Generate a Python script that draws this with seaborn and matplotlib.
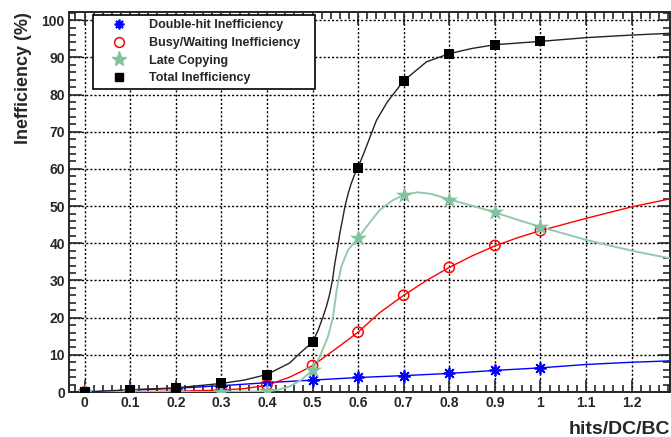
import matplotlib
matplotlib.use("Agg")
import matplotlib.pyplot as plt
import pandas as pd
import seaborn as sns
from matplotlib.lines import Line2D
from matplotlib.ticker import MultipleLocator, FormatStrFormatter

# measured points
hits = [0.0, 0.1, 0.2, 0.3, 0.4, 0.5, 0.6, 0.7, 0.8, 0.9, 1.0]
double_hit = [0.0, 0.45, 0.9, 1.7, 2.6, 3.2, 3.9, 4.4, 5.0, 5.9, 6.5]
busy = [0.0, 0.1, 0.3, 0.6, 1.9, 7.1, 16.1, 26.0, 33.5, 39.4, 43.4]
late = [0.0, 0.0, 0.1, 0.1, 0.2, 5.9, 41.4, 53.0, 51.7, 48.3, 44.4]
total = [0.0, 0.6, 1.0, 2.3, 4.7, 13.4, 60.3, 83.7, 91.0, 93.4, 94.3]

# fitted curves
double_hit_fx = [0.0, 0.1, 0.2, 0.3, 0.4, 0.5, 0.6, 0.7, 0.8, 0.9, 1.0, 1.1, 1.2, 1.29]
double_hit_fy = [0.0, 0.5, 1.0, 1.7, 2.5, 3.2, 3.9, 4.4, 5.0, 5.8, 6.5, 7.4, 8.0, 8.4]

busy_fx = [0.0, 0.1, 0.2, 0.3, 0.35, 0.4, 0.45, 0.472, 0.5, 0.55, 0.6, 0.647, 0.7,
           0.75, 0.8, 0.85, 0.9, 0.95, 1.0, 1.1, 1.2, 1.29]
busy_fy = [0.0, 0.1, 0.2, 0.5, 0.9, 1.8, 4.0, 5.3, 7.1, 11.5, 16.1, 21.3, 26.0,
           30.0, 33.5, 36.6, 39.3, 41.5, 43.4, 46.7, 49.8, 52.1]

late_fx = [0.0, 0.3, 0.4, 0.425, 0.45, 0.475, 0.5, 0.516, 0.534, 0.545, 0.553, 0.563,
           0.578, 0.6, 0.625, 0.647, 0.675, 0.7, 0.73, 0.76, 0.8, 0.85, 0.9, 0.95,
           1.0, 1.1, 1.2, 1.29]
late_fy = [0.0, 0.0, 0.2, 0.6, 1.5, 3.2, 5.9, 9.5, 14.9, 20.2, 27.4, 33.7,
           38.2, 41.4, 45.5, 48.9, 51.5, 53.0, 53.7, 53.3, 51.8, 50.1, 48.3, 46.3,
           44.4, 40.9, 38.0, 35.8]

total_fx = [0.0, 0.1, 0.2, 0.3, 0.35, 0.4, 0.45, 0.472, 0.5, 0.512, 0.523, 0.531,
            0.538, 0.544, 0.549, 0.555, 0.56, 0.566, 0.571, 0.578, 0.585, 0.592,
            0.6, 0.615, 0.64, 0.664, 0.7, 0.75, 0.8, 0.85, 0.9,
            1.0, 1.1, 1.2, 1.29]
total_fy = [0.0, 0.6, 1.1, 2.3, 3.2, 4.7, 7.8, 10.4, 13.4, 16.5, 20.2, 23.2,
            26.5, 30.3, 34.6, 38.8, 42.7, 46.5, 49.8, 53.3, 56.1, 58.4,
            60.4, 65.0, 73.0, 78.0, 83.7, 88.8, 91.0, 92.4, 93.4,
            94.3, 95.3, 96.0, 96.5]

labels = ["Double-hit Inefficiency", "Busy/Waiting Inefficiency   ",
          "Late Copying", "Total Inefficiency"]

GREEN = "#82c29e"
GREEN_LINE = "#92cbac"

sns.set_style("ticks")
plt.rcParams["font.family"] = ["Liberation Sans", "DejaVu Sans"]
plt.rcParams["font.weight"] = "bold"

fig = plt.figure(figsize=(6.71, 4.37), dpi=100)
ax = fig.add_axes([69 / 671, 45 / 437, 601 / 671, 380 / 437])

curves = [
    (double_hit_fx, double_hit_fy, "blue", 1.0),
    (busy_fx, busy_fy, "red", 1.0),
    (late_fx, late_fy, GREEN_LINE, 1.4),
    (total_fx, total_fy, "#222222", 1.0),
]
for fx, fy, c, lw in curves:
    sns.lineplot(x=fx, y=fy, color=c, linewidth=lw, ax=ax, sort=False,
                 estimator=None, zorder=3)

pts = pd.DataFrame({"x": hits, "dh": double_hit, "busy": busy,
                    "late": late, "total": total})
sns.scatterplot(data=pts, x="x", y="dh", marker=(8, 2, 0), s=60, color="blue",
                edgecolor="blue", linewidth=1.3, ax=ax, zorder=5)
sns.scatterplot(data=pts, x="x", y="busy", marker="o", s=55, facecolor="none",
                edgecolor="red", linewidth=1.1, ax=ax, zorder=5)
sns.scatterplot(data=pts, x="x", y="late", marker="*", s=170, color=GREEN,
                edgecolor=GREEN, linewidth=0, ax=ax, zorder=5)
sns.scatterplot(data=pts, x="x", y="total", marker="s", s=42, color="black",
                edgecolor="black", linewidth=0, ax=ax, zorder=5)

ax.set_xlim(-0.034, 1.284)
ax.set_ylim(0, 102.2)

ax.xaxis.set_major_locator(MultipleLocator(0.1))
ax.xaxis.set_minor_locator(MultipleLocator(0.02))
ax.yaxis.set_major_locator(MultipleLocator(10))
ax.yaxis.set_minor_locator(MultipleLocator(2))
ax.xaxis.set_major_formatter(FormatStrFormatter("%g"))
ax.tick_params(which="both", direction="in", top=True, right=True, width=1.2,
               labelsize=10, pad=3)
ax.tick_params(which="major", length=9)
ax.tick_params(which="minor", length=5)
for s in ax.spines.values():
    s.set_linewidth(1.4)

ax.grid(True, which="major", color="black", linestyle=(0, (1.5, 1.5)),
        linewidth=1.0, zorder=1)

ax.set_xlabel("hits/DC/BC", loc="right", fontsize=14, fontweight="bold",
              labelpad=8)
ax.set_ylabel("Inefficiency (%)", loc="top", fontsize=13, fontweight="bold",
              labelpad=7)

handles = [
    Line2D([], [], linestyle="none", marker=(8, 2, 0), markersize=7,
           color="blue", markeredgewidth=1.3),
    Line2D([], [], linestyle="none", marker="o", markersize=7,
           markerfacecolor="none", markeredgecolor="red", markeredgewidth=1.1),
    Line2D([], [], linestyle="none", marker="*", markersize=11, color=GREEN),
    Line2D([], [], linestyle="none", marker="s", markersize=6, color="black"),
]
leg = ax.legend(handles, labels, loc="upper left", bbox_to_anchor=(0.04, 0.992),
                frameon=True, fancybox=False, framealpha=1, edgecolor="black",
                prop={"size": 9, "weight": "bold"}, handlelength=3.5,
                handletextpad=0.6, borderpad=0.35, labelspacing=0.45,
                borderaxespad=0)
leg.get_frame().set_linewidth(1.2)
leg.set_zorder(10)

fig.savefig("out.png", dpi=100)
